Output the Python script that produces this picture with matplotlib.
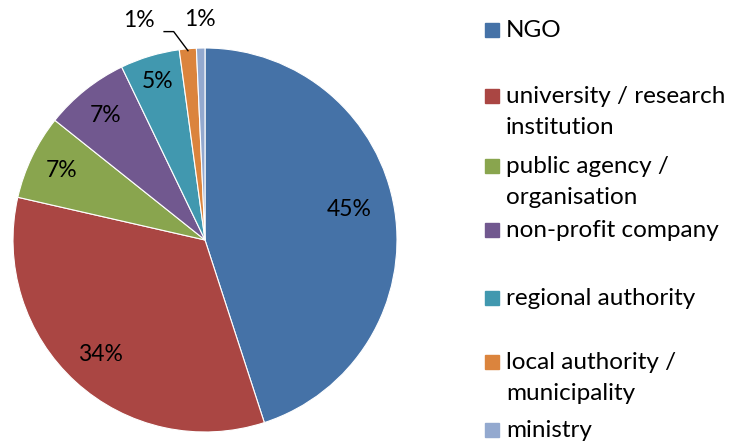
import matplotlib
matplotlib.use("Agg")
import matplotlib.pyplot as plt
import numpy as np

plt.rcParams['font.family'] = ['Lato', 'DejaVu Sans']

categories = ["NGO", "university / research\ninstitution", "public agency /\norganisation",
              "non-profit company", "regional authority", "local authority /\nmunicipality", "ministry"]
counts = [63, 47, 10, 10, 7, 2, 1]
pct_labels = ["45%", "34%", "7%", "7%", "5%", "1%", "1%"]
colors = ["#4572A7", "#AA4643", "#89A54E", "#71588F", "#4198AF", "#DB843D", "#93A9CF"]
label_r = [0.76, 0.81, 0.83, 0.83, 0.86, 1.15, 1.15]

fig = plt.figure(figsize=(7.31, 4.41), dpi=100)
ax = fig.add_axes([13 / 731, 9 / 441, 384 / 731, 384 / 441])
wedges, _ = ax.pie(counts, colors=colors, startangle=90, counterclock=False,
                   wedgeprops=dict(edgecolor="white", linewidth=0.8))
ax.set_xlim(-1, 1)
ax.set_ylim(-1, 1)
ax.set_aspect("equal")

for i, w in enumerate(wedges):
    ang = np.deg2rad((w.theta1 + w.theta2) / 2)
    r = label_r[i]
    x, y = r * np.cos(ang), r * np.sin(ang)
    if i == 0:
        y = y + 0.04
    if i == 5:
        x = x - 0.24
    ax.text(x, y, pct_labels[i], ha="center", va="center", fontsize=16.5, color="black",
            clip_on=False)
    if i == 5:
        ex, ey = 0.99 * np.cos(ang), 0.99 * np.sin(ang)
        ax.plot([x + 0.13, x + 0.18, ex], [y - 0.06, y - 0.06, ey], color="black", lw=1,
                clip_on=False)

# legend
ys = [30, 96, 166, 230, 298, 362, 430]
for lab, c, yy in zip(categories, colors, ys):
    fig.patches.append(plt.Rectangle((485 / 731, 1 - (yy + 7) / 441), 14 / 731, 14 / 441,
                                     transform=fig.transFigure, color=c))
    fig.text(506 / 731, 1 - (yy - 10) / 441, lab, ha="left", va="top", fontsize=17.5,
             linespacing=1.6)

fig.savefig("out.png", dpi=100)
